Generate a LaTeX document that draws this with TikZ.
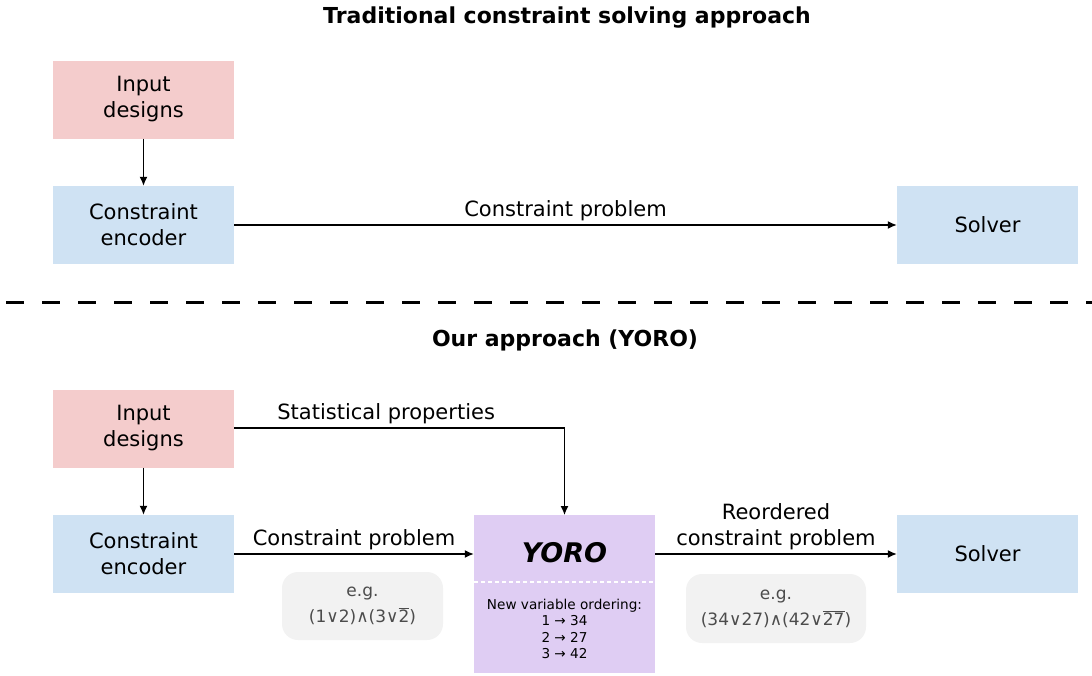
\documentclass[tikz,border=0pt]{standalone}
\usepackage{fontspec}
\setmainfont{DejaVu Sans}
\usepackage{tikz}
\usetikzlibrary{arrows.meta}
\usepackage{xcolor}
\definecolor{pinkbox}{HTML}{F4CCCC}
\definecolor{bluebox}{HTML}{CFE2F3}
\definecolor{lilac}{HTML}{DFCDF3}
\definecolor{egbox}{HTML}{F2F2F2}
\newcommand{\negv}[1]{$\overline{\hbox{#1}}$}

\begin{document}
\begin{tikzpicture}%
  [x=1pt,y=-1pt,>={Latex[length=9,width=8]},font=\fontsize{21}{26}\selectfont]
  \tikzstyle{box node}=[rectangle,minimum width=181,minimum height=78,inner sep=0,align=center]
  \tikzstyle{in node}=[box node,fill=pinkbox]
  \tikzstyle{enc node}=[box node,fill=bluebox]
  \tikzstyle{eg node}=[rectangle,rounded corners=16,fill=egbox,align=center,
    text=black!70,font=\fontsize{17}{26}\selectfont,inner sep=0]
  \tikzstyle{title}=[font=\fontsize{22}{26}\selectfont\bfseries]
  \tikzstyle{arr}=[->,line width=1.3]
  \useasboundingbox (0,0) rectangle (1092,675);
  % traditional
  \node[title](t1) at (567,18){Traditional constraint solving approach};
  \node[in node](in1) at (143.5,99.5){Input\\designs};
  \node[enc node](enc1) at (143.5,225){Constraint\\encoder};
  \node[enc node](sol1) at (987.5,225){Solver};
  \draw[arr](in1)--(enc1);
  \draw[arr](enc1)--node[above=0]{Constraint problem}(sol1);
  % separator
  \draw[line width=3,dash pattern=on 18 off 18](6,302)--(1092,302);
  % yoro
  \node[title](t2) at (565,340){Our approach (YORO)};
  \node[in node](in2) at (143.5,428.5){Input\\designs};
  \node[enc node](enc2) at (143.5,554){Constraint\\encoder};
  \node[enc node](sol2) at (987.5,554){Solver};
  \node[box node,fill=lilac,minimum height=158,anchor=north](yoro) at (564.5,515){};
  \node(yname) at (564.5,553){\fontsize{27}{30}\selectfont\bfseries\itshape YORO};
  \draw[white,line width=1.3,dash pattern=on 4 off 3](yoro.west|-0,582)--(yoro.east|-0,582);
  \node[align=center,font=\fontsize{13.6}{16.5}\selectfont](order) at (564.5,629)
    {New variable ordering:\\1 → 34\\2 → 27\\3 → 42};
  \draw[arr](in2)--(enc2);
  \draw[arr](in2.east|-0,428)-|node[pos=0.23,above=0]{Statistical properties}(yoro.north);
  \draw[arr](enc2)--node[above=0]{Constraint problem}(enc2-|yoro.west);
  \draw[arr](enc2-|yoro.east)--node[above=0,align=center]{Reordered\\constraint problem}(sol2);
  \node[eg node,minimum width=161,minimum height=68](eg1) at (362.5,606)
    {e.g.\\(1∨2)∧(3∨\negv{2})};
  \node[eg node,minimum width=180,minimum height=69](eg2) at (776,608.5)
    {e.g.\\(34∨27)∧(42∨\negv{27})};
\end{tikzpicture}
\end{document}
